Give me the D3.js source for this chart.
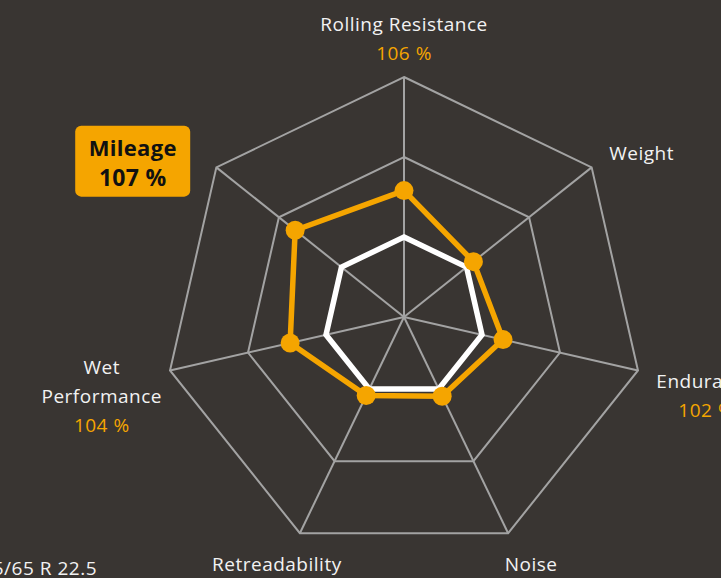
<!DOCTYPE html>
<html>
<head>
<meta charset="utf-8">
<script src="https://cdn.jsdelivr.net/npm/d3@7/dist/d3.min.js"></script>
<style>
  html, body { margin: 0; padding: 0; background: #393532; overflow: hidden; }
  svg { display: block; }
  text { font-family: "Open Sans", "Noto Sans", sans-serif; }
</style>
</head>
<body>
<svg id="chart" width="721" height="578"></svg>
<script>
// ---- data ----
const axes = ["Rolling Resistance", "Weight", "Endurance", "Noise", "Retreadability", "Wet\nPerformance", "Mileage"];
const tyreValues = [105.8, 101.1, 102.7, 101.0, 100.9, 104.6, 107.4];
const baselineValues = [100, 100, 100, 100, 100, 100, 100];
const valueLabels = ["106 %", null, "102 %", null, null, "104 %", "107 %"];
const ringTicks = [100, 110, 120];
const highlightedAxis = "Mileage";
const tyreSize = "385/65 R 22.5";

// ---- layout ----
const W = 721, H = 578;
const cx = 404, cy = 317, R = 240;
const orange = "#f5a500", gridColor = "#a3a3a3", textColor = "#f2f2f2";

const svg = d3.select("#chart");
svg.append("rect").attr("width", W).attr("height", H).attr("fill", "#393532");

const rScale = d3.scaleLinear().domain([90, 120]).range([0, R]);
const angle = d3.scaleLinear().domain([0, axes.length]).range([-Math.PI / 2, 1.5 * Math.PI]);
const pt = (i, r) => [cx + Math.cos(angle(i)) * r, cy + Math.sin(angle(i)) * r];

const g = svg.append("g");

// grid rings
ringTicks.forEach(t => {
  const pts = axes.map((_, i) => pt(i, rScale(t)));
  g.append("path")
    .attr("d", d3.line()(pts) + "Z")
    .attr("fill", "none").attr("stroke", gridColor).attr("stroke-width", 2)
    .attr("stroke-linejoin", "miter");
});
// spokes
axes.forEach((_, i) => {
  const [x, y] = pt(i, R);
  g.append("line").attr("x1", cx).attr("y1", cy).attr("x2", x).attr("y2", y)
    .attr("stroke", gridColor).attr("stroke-width", 2);
});

// baseline polygon (white)
const lineGen = d3.line();
g.append("path")
  .attr("d", lineGen(baselineValues.map((v, i) => pt(i, rScale(v)))) + "Z")
  .attr("fill", "none").attr("stroke", "#ffffff").attr("stroke-width", 5.5)
  .attr("stroke-linejoin", "miter");

// tyre polygon (orange)
const tyrePts = tyreValues.map((v, i) => pt(i, rScale(v)));
g.append("path")
  .attr("d", lineGen(tyrePts) + "Z")
  .attr("fill", "none").attr("stroke", orange).attr("stroke-width", 5.5)
  .attr("stroke-linejoin", "round");
g.selectAll("circle.dot").data(tyrePts).enter().append("circle")
  .attr("class", "dot")
  .attr("cx", d => d[0]).attr("cy", d => d[1]).attr("r", 9.5)
  .attr("fill", orange);

// labels
const fs = 19, ls = 0.5, lh = 29;
axes.forEach((name, i) => {
  const a = angle(i);
  const c = Math.cos(a), s = Math.sin(a);
  const lines = name.split("\n");
  const val = valueLabels[i];
  if (name === highlightedAxis) {
    const x = cx + c * 347, y = cy + s * 250;
    const bw = 115, bh = 71;
    svg.append("rect").attr("x", x - bw / 2).attr("y", y - bh / 2)
      .attr("width", bw).attr("height", bh).attr("rx", 6).attr("fill", orange);
    svg.append("text").attr("x", x).attr("y", y - 14).attr("text-anchor", "middle")
      .attr("dominant-baseline", "central").attr("font-size", 22).attr("font-weight", 700)
      .attr("letter-spacing", 0.3).attr("fill", "#111").text(lines[0]);
    if (val) svg.append("text").attr("x", x).attr("y", y + 16).attr("text-anchor", "middle")
      .attr("dominant-baseline", "central").attr("font-size", 23).attr("font-weight", 700)
      .attr("letter-spacing", 0.3).attr("fill", "#111").text(val);
    return;
  }
  const x = cx + c * (279.4 + 31.4 * Math.abs(c));
  const all = lines.map(t => ({ t, col: textColor }));
  if (val) all.push({ t: val, col: orange });
  let y0;
  if (s < -0.9) {
    const yc = cy + s * 279;
    y0 = yc - (all.length - 1) * lh / 2;
  } else {
    const yc = cy + s * 270 + 4;
    y0 = yc - (lines.length - 1) * lh / 2;
  }
  all.forEach((d, k) => {
    svg.append("text").attr("x", x).attr("y", y0 + k * lh)
      .attr("text-anchor", "middle").attr("dominant-baseline", "central")
      .attr("font-size", fs).attr("letter-spacing", ls).attr("fill", d.col).text(d.t);
  });
});

// tyre size text at bottom-left (partly clipped)
svg.append("text").attr("x", 97).attr("y", 568).attr("text-anchor", "end")
  .attr("dominant-baseline", "central").attr("font-size", fs).attr("letter-spacing", ls)
  .attr("fill", textColor).text(tyreSize);
</script>
</body>
</html>
